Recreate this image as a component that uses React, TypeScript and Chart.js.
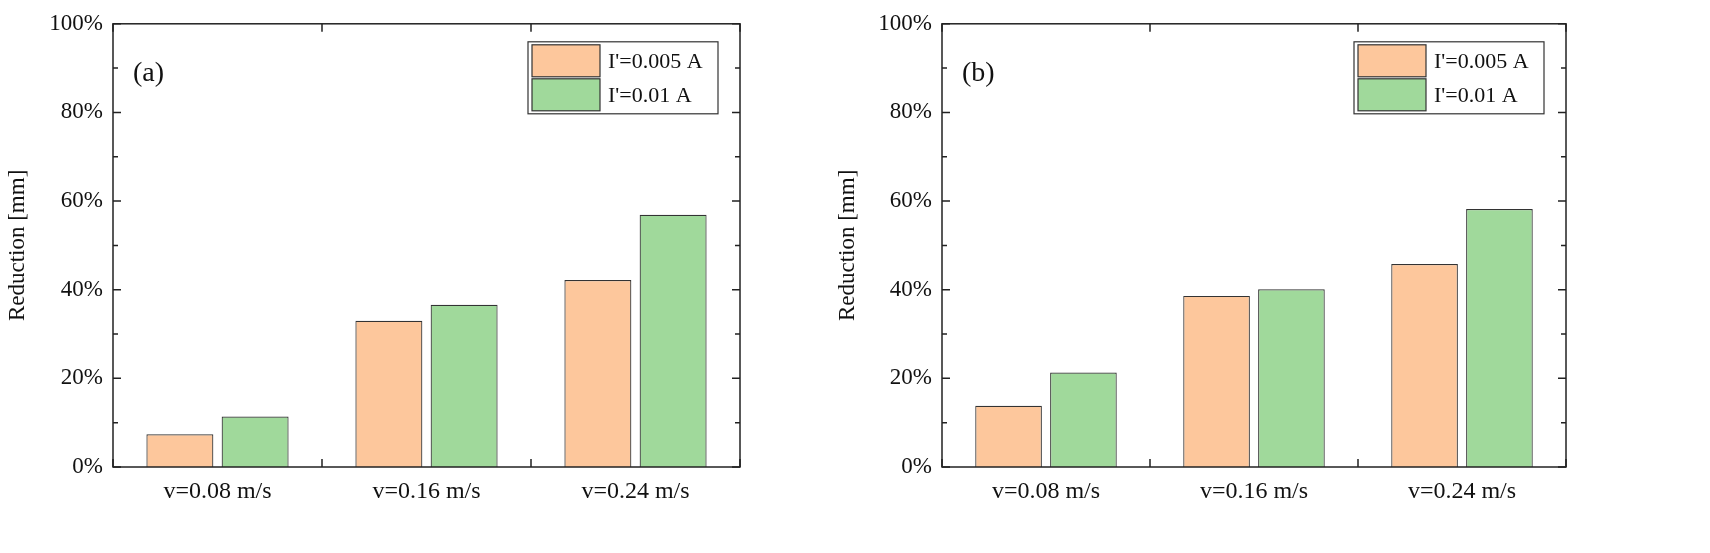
import React, { useEffect, useRef } from "react";
import { Chart, registerables } from "chart.js";
Chart.register(...registerables);

const categories = ["v=0.08 m/s", "v=0.16 m/s", "v=0.24 m/s"];
const seriesLabels = ["I'=0.005 A", "I'=0.01 A"];
const aLow = [7.4, 33.0, 42.2];
const aHigh = [11.4, 36.6, 56.9];
const bLow = [13.8, 38.6, 45.8];
const bHigh = [21.3, 40.1, 58.2];
const yTicks = [0, 20, 40, 60, 80, 100];

const FILL = ["#FDC79C", "#A0D99B"];
const FONT = "'Liberation Serif', 'Times New Roman', serif";

function framePlugin(tag: string) {
  return {
    id: "frame" + tag,
    afterDraw(chart: any) {
      const { ctx, chartArea: a, scales } = chart;
      const y = scales.y;
      ctx.save();
      ctx.strokeStyle = "#222";
      ctx.lineWidth = 1.5;
      ctx.strokeRect(a.left, a.top, a.right - a.left, a.bottom - a.top);
      for (let v = 0; v <= 100; v += 10) {
        const py = y.getPixelForValue(v);
        const len = v % 20 === 0 ? 8 : 5;
        ctx.beginPath();
        ctx.moveTo(a.left, py); ctx.lineTo(a.left + len, py);
        ctx.moveTo(a.right, py); ctx.lineTo(a.right - len, py);
        ctx.stroke();
      }
      const n = categories.length;
      for (let i = 0; i <= n; i++) {
        const px = a.left + ((a.right - a.left) * i) / n;
        ctx.beginPath();
        ctx.moveTo(px, a.bottom); ctx.lineTo(px, a.bottom - 8);
        ctx.moveTo(px, a.top); ctx.lineTo(px, a.top + 8);
        ctx.stroke();
      }
      ctx.fillStyle = "#111";
      ctx.font = `28px ${FONT}`;
      ctx.textBaseline = "middle";
      ctx.fillText(tag, a.left + 20, a.top + 50);
      const lw = 190, lh = 72;
      const lx = a.right - lw - 22, ly = a.top + 18;
      ctx.lineWidth = 1.2;
      ctx.strokeStyle = "#333";
      ctx.strokeRect(lx, ly, lw, lh);
      ctx.font = `22px ${FONT}`;
      seriesLabels.forEach((s, i) => {
        const ry = ly + 3 + i * 34;
        ctx.fillStyle = FILL[i];
        ctx.fillRect(lx + 4, ry, 68, 32);
        ctx.strokeRect(lx + 4, ry, 68, 32);
        ctx.fillStyle = "#111";
        ctx.fillText(s, lx + 80, ry + 17);
      });
      ctx.restore();
    },
  };
}

function Panel({ low, high, tag, left, padRight, yW }: any) {
  const ref = useRef<HTMLCanvasElement>(null);
  useEffect(() => {
    const chart = new Chart(ref.current!, {
      type: "bar",
      data: {
        labels: categories,
        datasets: [low, high].map((d, i) => ({
          label: seriesLabels[i],
          data: d,
          backgroundColor: FILL[i],
          borderColor: "#333",
          borderWidth: 1.2,
          categoryPercentage: 0.72,
          barPercentage: 0.89,
        })),
      },
      options: {
        responsive: false,
        animation: false,
        layout: { padding: { top: 22, right: padRight, left: 0, bottom: 0 } },
        plugins: { legend: { display: false }, tooltip: { enabled: false } },
        scales: {
          x: {
            grid: { display: false, drawTicks: false },
            border: { display: false },
            ticks: { color: "#111", font: { family: FONT, size: 24 }, padding: 10 },
            afterFit: (s: any) => { s.height = 86; },
          },
          y: {
            min: 0, max: 100,
            afterBuildTicks: (s: any) => { s.ticks = yTicks.map((v) => ({ value: v })); },
            grid: { display: false, drawTicks: false },
            border: { display: false },
            ticks: { color: "#111", font: { family: FONT, size: 23 }, padding: 10, callback: (v: any) => v + "%" },
            title: { display: true, text: "Reduction [mm]", color: "#111", font: { family: FONT, size: 23 } },
            afterFit: (s: any) => { s.width = yW; },
          },
        },
      },
      plugins: [framePlugin(tag)],
    });
    return () => chart.destroy();
  }, []);
  return (
    <canvas ref={ref} width={760} height={553}
      style={{ position: "absolute", left, top: 0, width: 760, height: 553 }} />
  );
}

export default function App() {
  return (
    <div style={{ position: "fixed", left: 0, top: 0, width: 1710, height: 553, background: "#fff" }}>
      <Panel low={aLow} high={aHigh} tag="(a)" left={0} padRight={20} yW={113} />
      <Panel low={bLow} high={bHigh} tag="(b)" left={830} padRight={24} yW={112} />
    </div>
  );
}
